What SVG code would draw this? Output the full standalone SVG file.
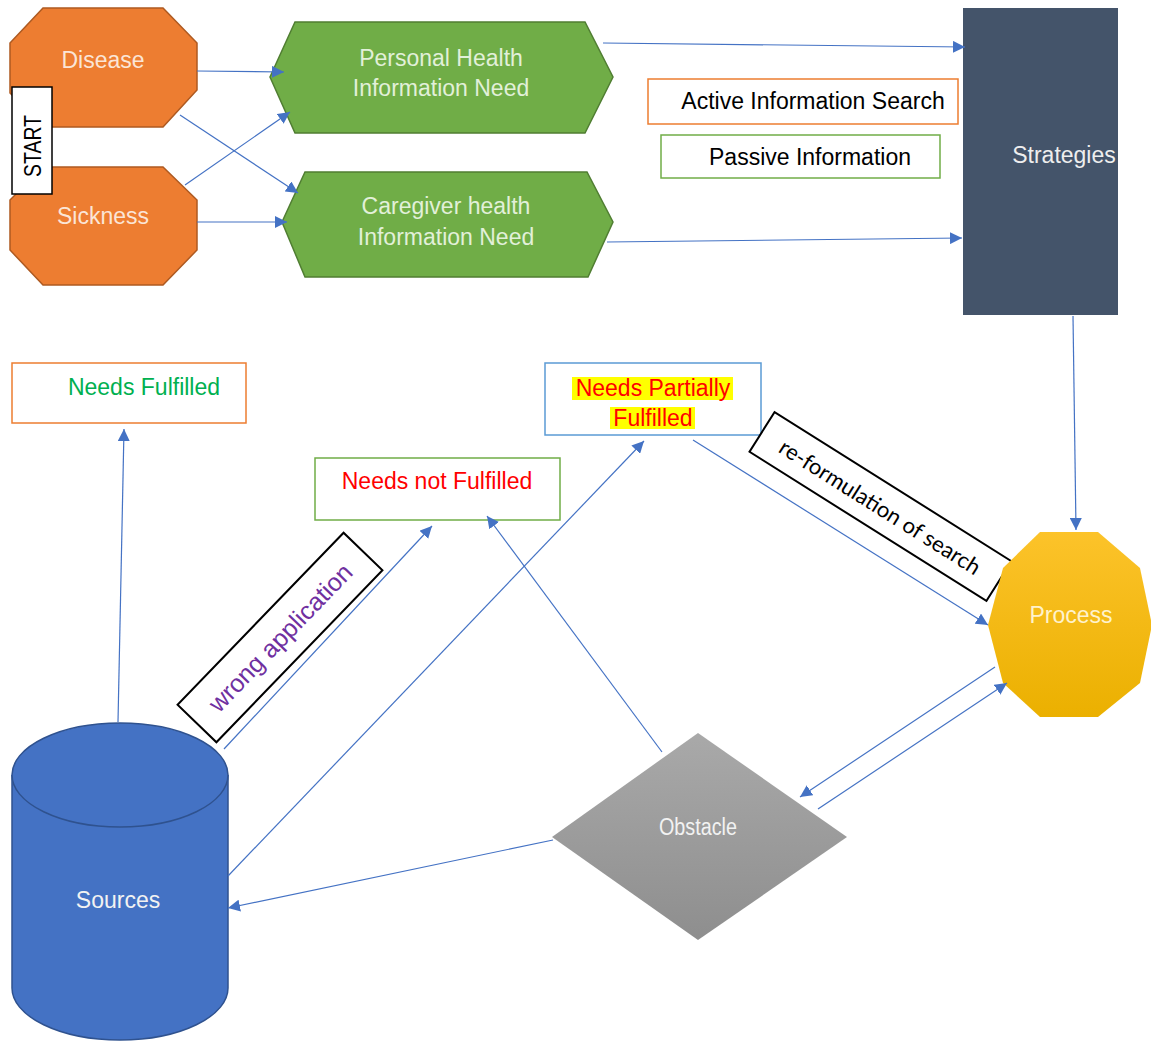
<svg xmlns="http://www.w3.org/2000/svg" width="1151" height="1043" viewBox="0 0 1151 1043">
<style>
text{font-family:"Liberation Sans",Arial,sans-serif;font-size:23px;text-anchor:middle;dominant-baseline:central}
.oct{fill:#ED7D31;stroke:#AE5A21;stroke-width:1.5}
.octt{fill:#FBE5D6}
.hex{fill:#70AD47;stroke:#507E32;stroke-width:1.5}
.hext{fill:#E2F0D9}
.box{fill:#fff;stroke-width:1.5}
.lbl{fill:#fff;stroke:#000;stroke-width:2}
.con{stroke:#4472C4;stroke-width:1.2;fill:none}
.arr{marker-end:url(#ah)}
</style>
<defs>
<marker id="ah" markerUnits="userSpaceOnUse" markerWidth="14" markerHeight="12" refX="12" refY="6" orient="auto">
<path d="M0,0 L12,6 L0,12 Z" fill="#4472C4"/>
</marker>
<linearGradient id="gProc" x1="0" y1="0" x2="0" y2="1">
<stop offset="0" stop-color="#FCC32A"/>
<stop offset="1" stop-color="#EBB000"/>
</linearGradient>
<linearGradient id="gObs" x1="0" y1="0" x2="0" y2="1">
<stop offset="0" stop-color="#A9A9A9"/>
<stop offset="1" stop-color="#8E8E8E"/>
</linearGradient>
</defs>
<rect width="1151" height="1043" fill="#fff"/>

<g id="disease">
<polygon class="oct" points="43,8 163,8 197,43 197,90 163,127 43,127 10,93 10,43"/>
<text class="octt" x="103" y="60">Disease</text>
</g>
<g id="sickness">
<polygon class="oct" points="43,167 163,167 197,200 197,250 163,285 43,285 10,250 10,200"/>
<text class="octt" x="103" y="216">Sickness</text>
</g>
<g id="start">
<rect x="12" y="87" width="40" height="107" fill="#fff" stroke="#000" stroke-width="1.5"/>
<text x="33" y="146" style="font-size:23px" textLength="62" lengthAdjust="spacingAndGlyphs" transform="rotate(-90 33 146)">START</text>
</g>

<g id="personal">
<polygon class="hex" points="295,22 585,22 613,77 585,133 295,133 270,77"/>
<text class="hext" x="441" y="58">Personal Health</text>
<text class="hext" x="441" y="88">Information Need</text>
</g>
<g id="caregiver">
<polygon class="hex" points="305,172 587,172 613,222 588,277 305,277 282,222"/>
<text class="hext" x="446" y="206">Caregiver health</text>
<text class="hext" x="446" y="237">Information Need</text>
</g>

<g id="active">
<rect class="box" x="648" y="79" width="310" height="45" stroke="#ED7D31"/>
<text x="813" y="101" fill="#000">Active Information Search</text>
</g>
<g id="passive">
<rect class="box" x="661" y="135" width="279" height="43" stroke="#70AD47"/>
<text x="810" y="157" fill="#000">Passive Information</text>
</g>

<g id="strategies">
<rect x="963" y="8" width="155" height="307" fill="#44546A"/>
<text x="1064" y="155" fill="#EEEEEE">Strategies</text>
</g>

<g id="needs-fulfilled">
<rect class="box" x="12" y="363" width="234" height="60" stroke="#ED7D31"/>
<text x="144" y="387" fill="#00B050">Needs Fulfilled</text>
</g>
<g id="needs-partially">
<rect class="box" x="545" y="363" width="216" height="72" stroke="#5B9BD5"/>
<rect x="572" y="377" width="161" height="23" fill="#FFFF00"/>
<rect x="610" y="407" width="85" height="22" fill="#FFFF00"/>
<text x="653" y="388" fill="#FF0000">Needs Partially</text>
<text x="653" y="418" fill="#FF0000">Fulfilled</text>
</g>
<g id="needs-not">
<rect class="box" x="315" y="458" width="245" height="62" stroke="#70AD47"/>
<text x="437" y="481" fill="#FF0000">Needs not Fulfilled</text>
</g>

<g id="wrong-application">
<rect class="lbl" x="160.5" y="610.5" width="239" height="54" transform="rotate(-46 280 637.5)"/>
<text x="280" y="637.5" fill="#7030A0" style="font-size:25px" transform="rotate(-46 280 637.5)">wrong application</text>
</g>

<g id="reformulation">
<rect class="lbl" x="740.5" y="483" width="280" height="47" transform="rotate(32.2 880.5 506.5)"/>
<text x="880.5" y="506.5" fill="#000" style="font-family:Lato,'Open Sans',sans-serif;font-size:22px" transform="rotate(32.2 880.5 506.5)">re-formulation of search</text>
</g>

<g id="process">
<polygon points="1040,532 1098,532 1140,568 1152,625 1140,683 1098,717 1040,717 1003,683 988,625 1003,568" fill="url(#gProc)"/>
<text x="1071" y="615" fill="#FFF2CC">Process</text>
</g>

<g id="obstacle">
<polygon points="698,733 847,837 698,940 552,837" fill="url(#gObs)"/>
<text x="698" y="827" fill="#F2F2F2" textLength="78" lengthAdjust="spacingAndGlyphs">Obstacle</text>
</g>

<g id="sources">
<path d="M12,775 L12,988 A108,52 0 0 0 228,988 L228,775" fill="#4472C4" stroke="#2F528F" stroke-width="1.5"/>
<ellipse cx="120" cy="775" rx="108" ry="52" fill="#4472C4" stroke="#2F528F" stroke-width="1.5"/>
<text x="118" y="900" fill="#F2F2F2">Sources</text>
</g>

<g id="connectors">
<line class="con arr" x1="197" y1="71" x2="284" y2="72"/>
<line class="con arr" x1="185" y1="185" x2="290" y2="112"/>
<line class="con arr" x1="180" y1="115" x2="298" y2="193"/>
<line class="con arr" x1="197" y1="222" x2="287" y2="222"/>
<line class="con arr" x1="603" y1="43" x2="965" y2="47"/>
<line class="con arr" x1="607" y1="242" x2="962" y2="238"/>
<line class="con arr" x1="1073" y1="316" x2="1076" y2="530"/>
<line class="con arr" x1="118" y1="722" x2="124" y2="429"/>
<line class="con arr" x1="224" y1="749" x2="432" y2="526"/>
<line class="con arr" x1="228" y1="876" x2="644" y2="441"/>
<line class="con arr" x1="662" y1="752" x2="487" y2="516"/>
<line class="con arr" x1="693" y1="440" x2="988" y2="625"/>
<line class="con arr" x1="995" y1="667" x2="800" y2="797"/>
<line class="con arr" x1="818" y1="809" x2="1007" y2="683"/>
<line class="con arr" x1="553" y1="840" x2="228" y2="908"/>
</g>
</svg>
